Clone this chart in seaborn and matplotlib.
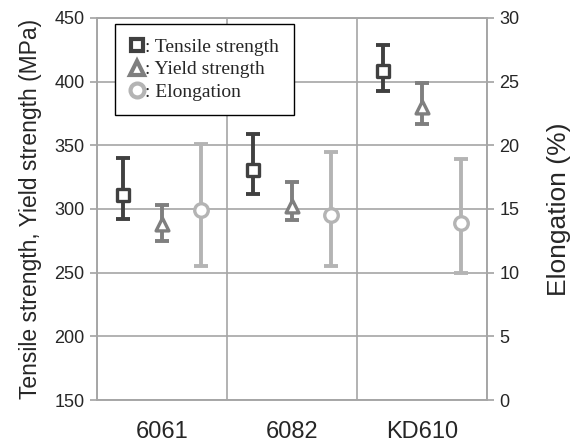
import matplotlib
matplotlib.use("Agg")
import pandas as pd
import seaborn as sns
import matplotlib.pyplot as plt
from matplotlib.lines import Line2D

# data
materials = ["6061", "6082", "KD610"]
tensile = [311, 331, 408]
tensile_lo = [292, 312, 393]
tensile_hi = [340, 359, 429]
yield_str = [288, 302, 380]
yield_lo = [275, 291, 367]
yield_hi = [303, 321, 399]
elong = [14.9, 14.55, 13.9]
elong_lo = [10.5, 10.5, 10.0]
elong_hi = [20.1, 19.5, 18.9]

C_TENS = "#404040"
C_YLD = "#7f7f7f"
C_ELO = "#b4b4b4"
GRID = "#a6a6a6"

sns.set_theme(style="white")
plt.rcParams["font.family"] = ["Liberation Sans", "DejaVu Sans"]

idx = list(range(len(materials)))
df = pd.DataFrame({
    "material": materials,
    "pos": idx,
    "tensile": tensile, "tensile_lo": tensile_lo, "tensile_hi": tensile_hi,
    "yield": yield_str, "yield_lo": yield_lo, "yield_hi": yield_hi,
    "elong": elong, "elong_lo": elong_lo, "elong_hi": elong_hi,
})

fig = plt.figure(figsize=(5.74, 4.48), dpi=100)
ax = fig.add_axes([0.169, 0.107, 0.679, 0.853])
ax2 = ax.twinx()

def draw(axis, col, color, marker, offset, ms):
    x = df["pos"] + offset
    err = [df[col] - df[col + "_lo"], df[col + "_hi"] - df[col]]
    axis.errorbar(x, df[col], yerr=err, fmt="none", ecolor=color,
                  elinewidth=2.8, capsize=5, capthick=2.8, zorder=3)
    sns.scatterplot(x=x, y=df[col], ax=axis, marker=marker, s=ms,
                    facecolor="white", edgecolor=color, linewidth=2.4,
                    zorder=4, legend=False)

draw(ax, "tensile", C_TENS, "s", -0.3, 75)
draw(ax, "yield", C_YLD, "^", 0.0, 85)
draw(ax2, "elong", C_ELO, "o", 0.3, 95)

# left axis
ax.set_xlim(-0.5, 2.5)
ax.set_ylim(150, 450)
ax.set_yticks(range(150, 451, 50))
ax.set_xticks([-0.5, 0.5, 1.5, 2.5])
ax.set_xticklabels([])
ax.set_xticks(idx, minor=True)
ax.set_xticklabels(materials, minor=True, fontsize=17)
ax.tick_params(axis="x", which="minor", length=0, pad=15)
ax.tick_params(axis="x", which="major", length=5, color=GRID, direction="out")
ax.tick_params(axis="y", length=5, color=GRID, labelsize=13, pad=4, left=True)
ax.grid(True, which="major", color=GRID, lw=1.2)
ax.set_axisbelow(True)
ax.set_xlabel("")
ax.set_ylabel("Tensile strength, Yield strength (MPa)", fontsize=16.5, labelpad=9)

# right axis
ax2.set_ylim(0, 30)
ax2.set_yticks(range(0, 31, 5))
ax2.tick_params(axis="y", length=5, color=GRID, labelsize=13, pad=4, right=True)
ax2.grid(False)
ax2.set_xlabel("")
ax2.set_ylabel("Elongation (%)", fontsize=19, labelpad=20)

for a in (ax, ax2):
    for s in a.spines.values():
        s.set_color(GRID)
        s.set_linewidth(1.2)

handles = [
    Line2D([], [], ls="none", marker="s", ms=9, mfc="white", mec=C_TENS, mew=3),
    Line2D([], [], ls="none", marker="^", ms=10, mfc="white", mec=C_YLD, mew=3),
    Line2D([], [], ls="none", marker="o", ms=10, mfc="white", mec=C_ELO, mew=3),
]
labels = [": Tensile strength", ": Yield strength", ": Elongation"]
leg = ax2.legend(handles, labels, loc="upper left", bbox_to_anchor=(0.046, 0.985),
                 borderaxespad=0, frameon=True, fancybox=False, framealpha=1,
                 edgecolor="black", handlelength=0.8, handletextpad=0.0,
                 labelspacing=0.25, borderpad=0.75,
                 prop={"family": ["Liberation Serif", "DejaVu Serif"], "size": 14})
leg.get_frame().set_linewidth(1.0)

fig.savefig("out.png", dpi=100)
